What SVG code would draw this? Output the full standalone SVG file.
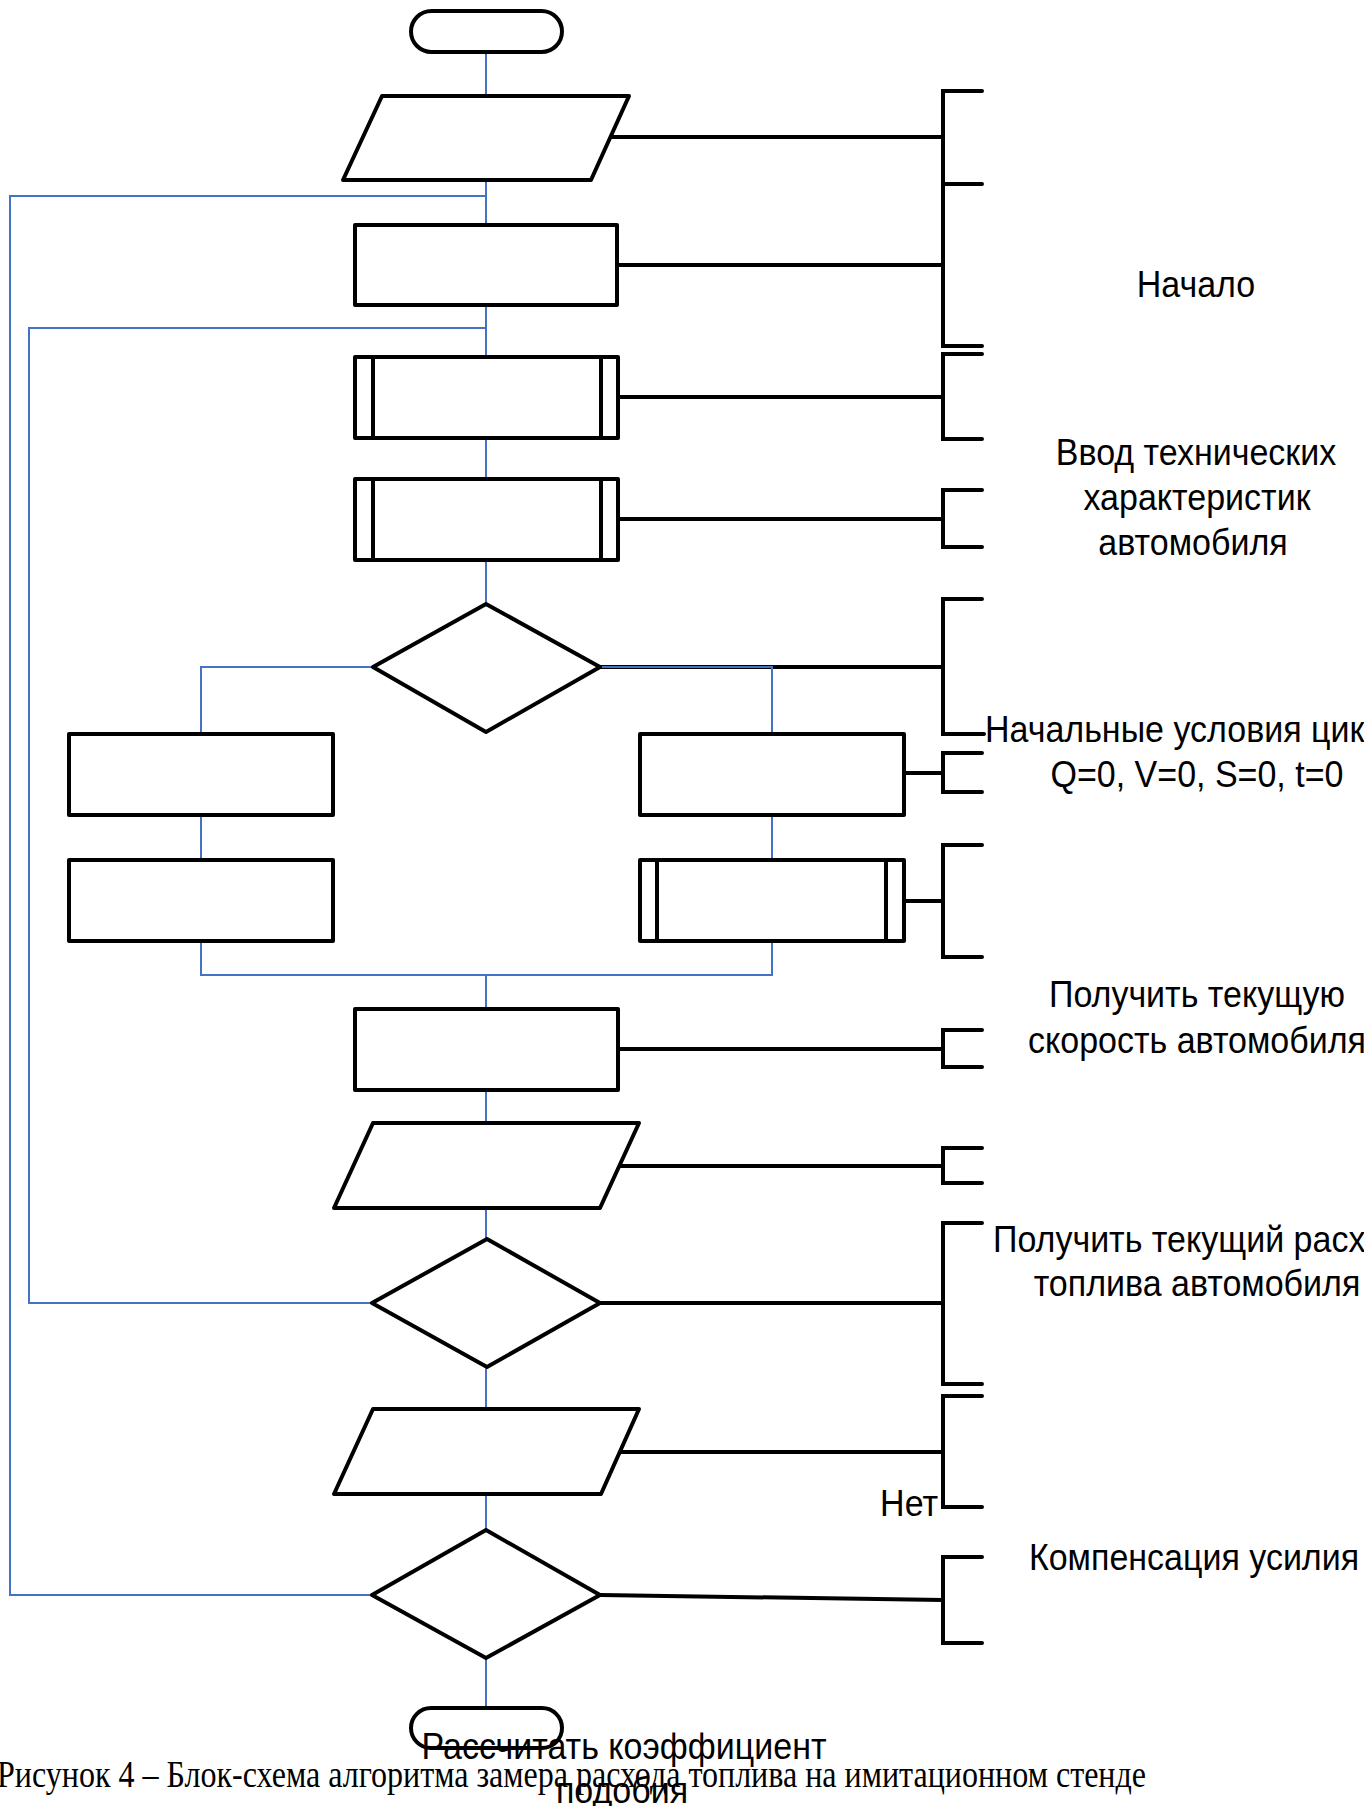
<svg xmlns="http://www.w3.org/2000/svg" width="1364" height="1806" viewBox="0 0 1364 1806">
<style>
.n{fill:none;stroke:#000;stroke-width:4;stroke-linejoin:round}
.w{fill:#fff;stroke:#000;stroke-width:4;stroke-linejoin:round}
.c{fill:none;stroke:#4472C4;stroke-width:2}
.a{fill:none;stroke:#000;stroke-width:4;stroke-linecap:round;stroke-linejoin:miter}
.t{font-family:"Liberation Sans",Arial,sans-serif;font-size:34px;fill:#000}
.cap{font-family:"Liberation Serif","Times New Roman",serif;font-size:33px;fill:#000}
</style>
<rect width="1364" height="1806" fill="#fff"/>

<g id="annotations">
<path class="a" d="M612,137H943M619,265H943M620,397H943M620,519H943M600,667H943M906,773H943M906,901H943M620,1049H943M619,1166H943M600,1303H943M619,1452H943M600,1595L943,1600"/>
<path class="a" d="M982,91H943V346H982M943,184H982"/>
<path class="a" d="M982,354H943V439H982"/>
<path class="a" d="M982,490H943V547H982"/>
<path class="a" d="M982,599H943V734H984"/>
<path class="a" d="M982,753H943V792H982"/>
<path class="a" d="M982,845H943V957H982"/>
<path class="a" d="M982,1030H943V1067H982"/>
<path class="a" d="M982,1148H943V1183H982"/>
<path class="a" d="M982,1223H943V1384H982"/>
<path class="a" d="M982,1396H943V1507H982"/>
<path class="a" d="M982,1557H943V1643H982"/>
</g>

<g id="connectors">
<path class="c" d="M486,53V96M486,180V223M486,307V355M486,440V477M486,562V604"/>
<path class="c" d="M372,1595H10V196H486"/>
<path class="c" d="M372,1303H29V328H486"/>
<path class="c" d="M373,667H201V732M600,667H772V732"/>
<path class="c" d="M201,817V858M772,817V858"/>
<path class="c" d="M201,943V975H772V943M486,975V1007"/>
<path class="c" d="M486,1092V1123M486,1208V1239M486,1367V1409M486,1494V1530M486,1658V1706"/>
</g>

<g id="start"><rect class="w" x="411" y="11" width="151" height="41" rx="20.5"/></g>
<g id="input1"><polygon class="w" points="382,96 629,96 591,180 343,180"/></g>
<g id="process1"><rect class="w" x="355" y="225" width="262" height="80"/></g>
<g id="sub1"><rect class="w" x="355" y="357" width="263" height="81"/><path class="n" d="M373,357V438M601,357V438"/></g>
<g id="sub2"><rect class="w" x="355" y="479" width="263" height="81"/><path class="n" d="M373,479V560M601,479V560"/></g>
<g id="decision1"><polygon class="w" points="486,604 600,667 486,732 373,667"/></g>
<g id="left1"><rect class="w" x="69" y="734" width="264" height="81"/></g>
<g id="left2"><rect class="w" x="69" y="860" width="264" height="81"/></g>
<g id="right1"><rect class="w" x="640" y="734" width="264" height="81"/></g>
<g id="right2"><rect class="w" x="640" y="860" width="264" height="81"/><path class="n" d="M657,860V941M886,860V941"/></g>
<g id="process2"><rect class="w" x="355" y="1009" width="263" height="81"/></g>
<g id="input2"><polygon class="w" points="373,1123 639,1123 600,1208 334,1208"/></g>
<g id="decision2"><polygon class="w" points="487,1239 600,1303 487,1367 372,1303"/></g>
<g id="input3"><polygon class="w" points="373,1409 639,1409 601,1494 334,1494"/></g>
<g id="decision3"><polygon class="w" points="486,1530 600,1595 486,1658 372,1595"/></g>
<g id="end"><rect class="w" x="411" y="1708" width="151" height="40" rx="20"/></g>

<g id="labels">
<text class="t" text-anchor="middle" transform="translate(1196,297) scale(1,1.1)">Начало</text>
<text class="t" text-anchor="middle" transform="translate(1196,465) scale(1,1.1)">Ввод технических</text>
<text class="t" text-anchor="middle" transform="translate(1197,510) scale(1,1.1)">характеристик</text>
<text class="t" text-anchor="middle" transform="translate(1193,555) scale(1,1.1)">автомобиля</text>
<text class="t" transform="translate(985,742) scale(1,1.1)">Начальные условия цик</text>
<text class="t" text-anchor="middle" transform="translate(1197,787) scale(1,1.1)">Q=0, V=0, S=0, t=0</text>
<text class="t" text-anchor="middle" transform="translate(1197,1007) scale(1,1.1)">Получить текущую</text>
<text class="t" transform="translate(1028,1053) scale(1,1.1)">скорость автомобиля</text>
<text class="t" transform="translate(993,1252) scale(1,1.1)">Получить текущий расх</text>
<text class="t" text-anchor="middle" transform="translate(1197,1296) scale(1,1.1)">топлива автомобиля</text>
<text class="t" text-anchor="end" transform="translate(938,1516) scale(1,1.1)">Нет</text>
<text class="t" text-anchor="middle" transform="translate(1194,1570) scale(1,1.1)">Компенсация усилия</text>
<text class="cap" transform="translate(-3,1787) scale(1,1.15)" textLength="1149" lengthAdjust="spacingAndGlyphs">Рисунок 4 – Блок-схема алгоритма замера расхода топлива на имитационном стенде</text>
<text class="t" text-anchor="middle" transform="translate(624,1759) scale(1,1.1)">Рассчитать коэффициент</text>
<text class="t" text-anchor="middle" transform="translate(622,1803) scale(1,1.1)">подобия</text>
</g>
</svg>
